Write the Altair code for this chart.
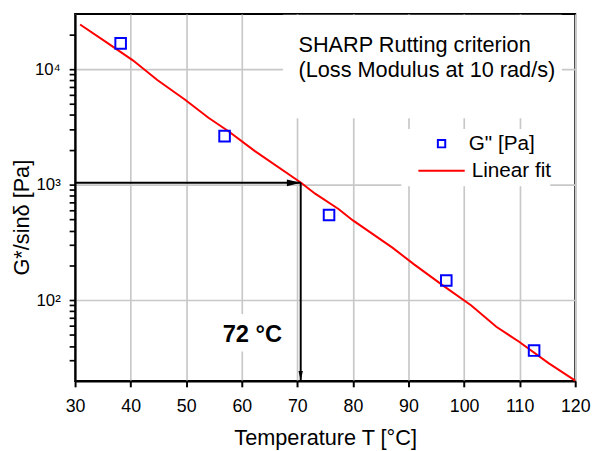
import altair as alt
import pandas as pd

FONT = "Liberation Sans"

# ---- data ----
temp_meas = [38.2, 56.9, 75.7, 96.8, 112.6]
g_meas = [16700, 2630, 546, 148, 36.6]

temp_fit = [30.9, 35.6, 40.4, 44.8, 49.8, 54.0, 57.6, 62.3, 70.6, 73.2,
            77.4, 80.0, 87.1, 91.0, 96.3, 101.3, 105.8, 109.9, 115.2, 120.0]
g_fit = [24300, 17100, 11900, 8050, 5430, 3790, 2900, 1960, 1044, 835,
         615, 490, 285, 204, 133, 90, 58.8, 43.7, 28.5, 20.1]

t_crit = 70.6
g_crit = 1036

x_major = [30, 40, 50, 60, 70, 80, 90, 100, 110, 120]
x_minor = [35, 45, 55, 65, 75, 85, 95, 105, 115]
y_major = [100, 1000, 10000]
y_minor = [30, 40, 50, 60, 70, 80, 90,
           200, 300, 400, 500, 600, 700, 800, 900,
           2000, 3000, 4000, 5000, 6000, 7000, 8000, 9000, 20000]

title_lines = ["SHARP Rutting criterion", "(Loss Modulus at 10 rad/s)"]
title_x = [70.2, 70.2]
title_y = [16000, 9800]

crit_label = "72 °C"
crit_label_x = 61.9
crit_label_y = 49.5

# white annotation backgrounds (x1, x2, y1, y2 in data units)
bg_x1 = [67.4, 88.7, 55.2]
bg_x2 = [117.6, 115.5, 67.8]
bg_y1 = [29500, 3030, 76]
bg_y2 = [3760, 970, 36]

# ---- frames ----
df_pts = pd.DataFrame({"T": temp_meas, "G": g_meas, "s": ['G" [Pa]'] * len(temp_meas)})
df_fit = pd.DataFrame({"T": temp_fit, "G": g_fit, "s": ["Linear fit"] * len(temp_fit)})
df_h = pd.DataFrame({"x1": [30], "x2": [t_crit], "y": [g_crit]})
df_v = pd.DataFrame({"x": [t_crit], "y1": [g_crit], "y2": [20]})
df_ah = pd.DataFrame({"x": [t_crit], "y": [g_crit]})
df_av = pd.DataFrame({"x": [t_crit], "y": [20]})
df_title = pd.DataFrame({"x": title_x, "y": title_y, "t": title_lines})
df_crit = pd.DataFrame({"x": [crit_label_x], "y": [crit_label_y], "t": [crit_label]})
df_bg = pd.DataFrame({"x1": bg_x1, "x2": bg_x2, "y1": bg_y1, "y2": bg_y2})

xs = alt.Scale(domain=[30, 120], nice=False, zero=False)
ys = alt.Scale(type="log", domain=[20, 30000], nice=False)

W, H = 507, 372

x_test = "datum.value % 10 == 0"
y_test = "datum.value == 100 || datum.value == 1000 || datum.value == 10000"

x_axis = alt.Axis(
    orient="bottom", values=x_major + x_minor, grid=True, gridColor="#c8c8c8", gridWidth=1.7,
    gridOpacity={"condition": {"test": x_test, "value": 1}, "value": 0},
    tickSize=6, tickWidth=2, tickColor="black", domainColor="black", domainWidth=2,
    labelFont=FONT, labelFontSize=18, labelColor="black", labelPadding=11,
    labelFlush=False, labelOverlap=False,
    labelExpr="datum.value % 10 == 0 ? datum.label : ''",
    title="Temperature T [°C]", titleFont=FONT, titleFontSize=22, titleFontWeight="normal",
    titleColor="black", titleX=W / 2, titleY=64, titleBaseline="alphabetic",
)
y_axis = alt.Axis(
    orient="left", values=y_major + y_minor, grid=True, gridColor="#c8c8c8", gridWidth=1.7,
    gridOpacity={"condition": {"test": y_test, "value": 1}, "value": 0},
    tickSize=6, tickWidth=1.7, tickColor="black", domainColor="black", domainWidth=2,
    labelFont=FONT, labelFontSize=17, labelColor="black", labelPadding=9,
    labelOverlap=False,
    labelExpr="datum.value == 100 ? '10²' : datum.value == 1000 ? '10³' : datum.value == 10000 ? '10⁴' : ''",
    title="G*/sinδ [Pa]", titleFont=FONT, titleFontSize=22, titleFontWeight="normal",
    titleColor="black", titleX=-47, titleY=206, titleAngle=270, titleBaseline="alphabetic",
)

bg = alt.Chart(df_bg).mark_rect(color="white").encode(
    x=alt.X("x1:Q", scale=xs, axis=x_axis), x2="x2:Q",
    y=alt.Y("y1:Q", scale=ys, axis=y_axis), y2="y2:Q",
)

fit = alt.Chart(df_fit).mark_line(strokeWidth=2).encode(
    x=alt.X("T:Q", scale=xs),
    y=alt.Y("G:Q", scale=ys),
    stroke=alt.Stroke(
        "s:N", scale=alt.Scale(domain=["Linear fit"], range=["#ff0000"]), title=None,
        legend=alt.Legend(orient="none", legendX=347, legendY=134.5, symbolType="stroke",
                          symbolSize=2209, symbolStrokeWidth=2, labelOffset=6,
                          labelFont=FONT, labelFontSize=21, labelColor="black", padding=0),
    ),
)

hline = alt.Chart(df_h).mark_rule(color="black", strokeWidth=2).encode(
    x=alt.X("x1:Q", scale=xs), x2="x2:Q",
    y=alt.Y("y:Q", scale=ys),
)
vline = alt.Chart(df_v).mark_rule(color="black", strokeWidth=2).encode(
    x=alt.X("x:Q", scale=xs),
    y=alt.Y("y1:Q", scale=ys), y2="y2:Q",
)
head_h = alt.Chart(df_ah).mark_point(
    shape="M0,0L-1,-0.25L-1,0.25Z", size=784, filled=True, color="black", opacity=1
).encode(x=alt.X("x:Q", scale=xs), y=alt.Y("y:Q", scale=ys))
head_v = alt.Chart(df_av).mark_point(
    shape="M0,0L-0.22,-1L0.22,-1Z", size=400, filled=True, color="black", opacity=1
).encode(x=alt.X("x:Q", scale=xs), y=alt.Y("y:Q", scale=ys))

pts = alt.Chart(df_pts).mark_point(shape="square", filled=False, size=115, strokeWidth=2, opacity=1).encode(
    x=alt.X("T:Q", scale=xs),
    y=alt.Y("G:Q", scale=ys),
    color=alt.Color(
        "s:N", scale=alt.Scale(domain=['G" [Pa]'], range=["#0000ff"]), title=None,
        legend=alt.Legend(orient="none", legendX=361, legendY=121, symbolType="square",
                          symbolSize=56, symbolStrokeWidth=2, labelOffset=17,
                          labelFont=FONT, labelFontSize=21, labelColor="black", padding=0),
    ),
)

titles = alt.Chart(df_title).mark_text(align="left", baseline="middle", font=FONT, fontSize=22, color="black").encode(
    x=alt.X("x:Q", scale=xs), y=alt.Y("y:Q", scale=ys), text="t:N"
)
crit = alt.Chart(df_crit).mark_text(align="center", baseline="middle", font=FONT, fontSize=24,
                                    fontWeight="bold", color="black").encode(
    x=alt.X("x:Q", scale=xs), y=alt.Y("y:Q", scale=ys), text="t:N"
)

chart = alt.layer(bg, fit, hline, vline, head_h, head_v, pts, titles, crit).properties(
    width=W, height=H,
    autosize=alt.AutoSizeParams(type="none"),
    padding={"left": 68, "top": 3, "right": 16, "bottom": 68},
).configure_view(stroke="black", strokeWidth=2)

chart.save("out.html", embed_options={"renderer": "svg", "actions": False})
